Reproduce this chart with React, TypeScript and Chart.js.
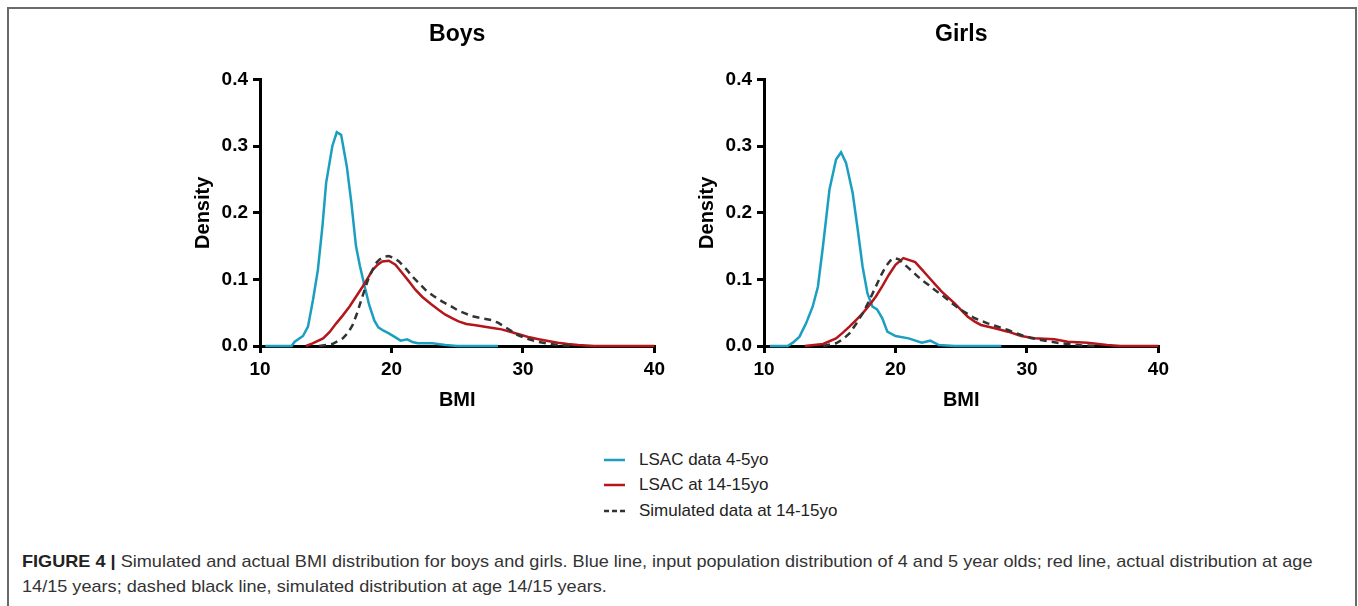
import React, { useEffect, useRef } from "react";
import { Chart, registerables } from "chart.js";

Chart.register(...registerables);

const FONT = "'Liberation Sans', Arial, Helvetica, sans-serif";

// ---- Boys ----
const boysInputX = [10.4, 12.4, 12.64, 13.27, 13.65, 14.03, 14.4, 14.75, 15.03, 15.5, 15.84, 16.17, 16.6, 16.95, 17.3, 17.6, 17.93, 18.3, 18.7, 19.0, 19.4, 19.8, 20.3, 20.7, 21.2, 21.6, 22.0, 23.1, 24.1, 25.0, 28.1];
const boysInputY = [0, 0, 0.0065, 0.015, 0.029, 0.069, 0.114, 0.18, 0.245, 0.3, 0.321, 0.317, 0.27, 0.215, 0.15, 0.12, 0.092, 0.062, 0.038, 0.028, 0.023, 0.019, 0.013, 0.008, 0.01, 0.006, 0.004, 0.004, 0.0015, 0, 0];
const boysActualX = [13.5, 14.0, 14.8, 15.3, 15.8, 16.3, 16.8, 17.3, 17.8, 18.2, 18.56, 18.95, 19.3, 19.8, 20.3, 20.8, 21.33, 21.8, 22.33, 23.0, 23.6, 24.1, 24.6, 25.1, 25.7, 26.4, 27.1, 27.7, 28.37, 29.1, 29.88, 30.5, 31.1, 31.9, 32.65, 33.4, 34.2, 35.4, 40];
const boysActualY = [0, 0.004, 0.0115, 0.021, 0.034, 0.046, 0.059, 0.074, 0.089, 0.102, 0.114, 0.122, 0.127, 0.128, 0.122, 0.11, 0.097, 0.085, 0.074, 0.063, 0.054, 0.047, 0.042, 0.037, 0.033, 0.031, 0.029, 0.027, 0.025, 0.021, 0.0165, 0.013, 0.0105, 0.0075, 0.005, 0.003, 0.0015, 0, 0];
const boysSimX = [14.5, 15.5, 16.3, 16.7, 17.05, 17.4, 17.7, 18.0, 18.3, 18.8, 19.1, 19.44, 19.8, 20.2, 20.57, 21.1, 21.6, 22.1, 22.6, 23.2, 23.84, 24.5, 25.1, 25.6, 26.1, 26.8, 27.6, 28.1, 28.6, 29.1, 29.6, 30.3, 31.1, 31.9, 32.65, 33.7];
const boysSimY = [0, 0.003, 0.0115, 0.02, 0.0316, 0.05, 0.069, 0.087, 0.104, 0.124, 0.13, 0.134, 0.135, 0.132, 0.127, 0.116, 0.104, 0.094, 0.084, 0.075, 0.067, 0.06, 0.053, 0.049, 0.045, 0.042, 0.039, 0.035, 0.029, 0.023, 0.0165, 0.011, 0.0065, 0.0035, 0.0015, 0];

// ---- Girls ----
const girlsInputX = [10.45, 11.8, 12.2, 12.7, 13.2, 13.7, 14.1, 14.48, 14.98, 15.48, 15.86, 16.24, 16.74, 17.1, 17.5, 17.87, 18.25, 18.6, 19.0, 19.38, 20.0, 21.0, 22.0, 22.65, 23.3, 24.5, 28.05];
const girlsInputY = [0, 0, 0.005, 0.014, 0.034, 0.059, 0.089, 0.149, 0.235, 0.28, 0.291, 0.275, 0.23, 0.179, 0.119, 0.079, 0.059, 0.055, 0.0416, 0.0215, 0.015, 0.0115, 0.005, 0.008, 0.0015, 0, 0];
const girlsActualX = [13.1, 14.5, 15.48, 16.0, 16.5, 17.0, 17.5, 18.0, 18.5, 19.0, 19.5, 20.0, 20.6, 21.5, 22.0, 22.5, 23.0, 23.5, 24.0, 24.5, 25.0, 25.5, 26.0, 26.5, 27.55, 28.56, 29.56, 30.57, 32.08, 33.1, 34.6, 36.1, 37.1, 40];
const girlsActualY = [0, 0.003, 0.0115, 0.02, 0.029, 0.039, 0.049, 0.061, 0.074, 0.09, 0.107, 0.122, 0.132, 0.126, 0.115, 0.104, 0.093, 0.082, 0.073, 0.064, 0.054, 0.044, 0.037, 0.0316, 0.0266, 0.0215, 0.015, 0.0115, 0.01, 0.0065, 0.005, 0.0015, 0, 0];
const girlsSimX = [14.5, 15.48, 16.0, 16.5, 17.0, 17.5, 18.0, 18.5, 18.9, 19.25, 19.6, 19.9, 20.26, 20.6, 21.0, 21.5, 22.0, 22.5, 23.0, 23.5, 24.0, 24.5, 25.0, 25.5, 26.0, 26.5, 27.0, 27.8, 28.56, 29.56, 30.3, 31.07, 32.6, 34.1, 35.3];
const girlsSimY = [0, 0.004, 0.01, 0.019, 0.033, 0.049, 0.068, 0.089, 0.106, 0.119, 0.128, 0.132, 0.13, 0.124, 0.117, 0.108, 0.099, 0.092, 0.084, 0.077, 0.069, 0.061, 0.054, 0.048, 0.042, 0.038, 0.034, 0.029, 0.024, 0.0165, 0.012, 0.009, 0.004, 0.001, 0];

const xTicks = [10, 20, 30, 40];
const yTicks = [0, 0.1, 0.2, 0.3, 0.4];

const seriesLabels = ["LSAC data 4-5yo", "LSAC at 14-15yo", "Simulated data at 14-15yo"];
const BLUE = "#1a9fc1";
const RED = "#b3161b";
const DARK = "#333333";

const pts = (xs: number[], ys: number[]) => xs.map((x, i) => ({ x, y: ys[i] }));

function makeConfig(title: string, input: any[], actual: any[], sim: any[], padRight: number): any {
  const common = {
    pointRadius: 0,
    borderWidth: 2.5,
    tension: 0,
    fill: false,
    clip: false,
  };
  return {
    type: "line",
    data: {
      datasets: [
        { ...common, label: seriesLabels[2], data: sim, borderColor: DARK, borderDash: [7, 5], order: 1 },
        { ...common, label: seriesLabels[1], data: actual, borderColor: RED, order: 2 },
        { ...common, label: seriesLabels[0], data: input, borderColor: BLUE, order: 3 },
      ],
    },
    options: {
      animation: false,
      responsive: false,
      devicePixelRatio: 1,
      layout: { padding: { left: 0, right: padRight, top: 0, bottom: 0 } },
      plugins: {
        legend: { display: false },
        tooltip: { enabled: false },
        title: {
          display: true,
          text: title,
          fullSize: false,
          color: "#000",
          font: { family: FONT, size: 23, weight: "bold" },
          padding: { top: 11, bottom: 31 },
        },
      },
      scales: {
        x: {
          type: "linear",
          min: 10,
          max: 40,
          afterFit: (s: any) => { s.height = 84; },
          afterBuildTicks: (s: any) => { s.ticks = xTicks.map((v) => ({ value: v })); },
          ticks: { color: "#000", padding: 5, font: { family: FONT, size: 19, weight: "bold" } },
          grid: { display: true, drawOnChartArea: false, drawTicks: true, tickLength: 7, lineWidth: 3, color: "#000" },
          border: { display: true, width: 3, color: "#000" },
          title: { display: true, text: "BMI", color: "#000", font: { family: FONT, size: 20, weight: "bold" }, padding: { top: 0, bottom: 18 } },
        },
        y: {
          type: "linear",
          min: 0,
          max: 0.4,
          afterFit: (s: any) => { s.width = 90; },
          afterBuildTicks: (s: any) => { s.ticks = yTicks.map((v) => ({ value: v })); },
          ticks: { color: "#000", padding: 5, font: { family: FONT, size: 19, weight: "bold" }, callback: (v: any) => Number(v).toFixed(1) },
          grid: { display: true, drawOnChartArea: false, drawTicks: true, tickLength: 7, lineWidth: 3, color: "#000" },
          border: { display: true, width: 3, color: "#000" },
          title: { display: true, text: "Density", color: "#000", font: { family: FONT, size: 20, weight: "bold" }, padding: { top: 21, bottom: 0 } },
        },
      },
    },
  };
}

function Panel({ left, title, input, actual, sim, padRight }: any) {
  const ref = useRef<HTMLCanvasElement>(null);
  useEffect(() => {
    const chart = new Chart(ref.current as HTMLCanvasElement, makeConfig(title, input, actual, sim, padRight));
    return () => chart.destroy();
  }, []);
  return (
    <canvas
      ref={ref}
      width={500}
      height={420}
      style={{ position: "absolute", left, top: 10, width: 500, height: 420 }}
    />
  );
}

function LegendRow({ top, color, dash, text }: any) {
  return (
    <div style={{ position: "absolute", left: 604, top, height: 22, display: "flex", alignItems: "center" }}>
      <svg width={22} height={6} style={{ display: "block" }}>
        <line x1={0} y1={3} x2={21} y2={3} stroke={color} strokeWidth={2.5} strokeDasharray={dash || undefined} />
      </svg>
      <span style={{ marginLeft: 13, fontFamily: FONT, fontSize: 17, color: "#222", whiteSpace: "nowrap" }}>{text}</span>
    </div>
  );
}

const captionLine1Rest = " Simulated and actual BMI distribution for boys and girls. Blue line, input population distribution of 4 and 5 year olds; red line, actual distribution at age";
const captionLine2 = "14/15 years; dashed black line, simulated distribution at age 14/15 years.";

export default function App() {
  const l1 = useRef<HTMLDivElement>(null);
  const l2 = useRef<HTMLDivElement>(null);
  useEffect(() => {
    if (l1.current && l2.current) {
      const w = l1.current.scrollWidth;
      const k = 1291 / w;
      l1.current.style.transform = `scaleX(${k})`;
      l2.current.style.transform = `scaleX(${k})`;
    }
  }, []);
  const capStyle: any = {
    position: "absolute",
    left: 22,
    fontFamily: FONT,
    fontSize: 17,
    lineHeight: "20px",
    color: "#333",
    whiteSpace: "nowrap",
    transformOrigin: "0 0",
  };
  return (
    <div style={{ position: "absolute", left: 0, top: 0, width: 1358, height: 606, overflow: "hidden", background: "#fff" }}>
      <div style={{ position: "absolute", left: 7, top: 7, width: 1350, height: 700, boxSizing: "border-box", border: "2px solid #6a6a6a" }} />
      <Panel left={170} title="Boys" input={pts(boysInputX, boysInputY)} actual={pts(boysActualX, boysActualY)} sim={pts(boysSimX, boysSimY)} padRight={13} />
      <Panel left={674} title="Girls" input={pts(girlsInputX, girlsInputY)} actual={pts(girlsActualX, girlsActualY)} sim={pts(girlsSimX, girlsSimY)} padRight={12} />
      <LegendRow top={449} color={BLUE} text={seriesLabels[0]} />
      <LegendRow top={474} color={RED} text={seriesLabels[1]} />
      <LegendRow top={500} color={DARK} dash="5 3" text={seriesLabels[2]} />
      <div ref={l1} style={{ ...capStyle, top: 552 }}>
        <b style={{ color: "#222" }}>FIGURE 4 |</b>
        {captionLine1Rest}
      </div>
      <div ref={l2} style={{ ...capStyle, top: 577 }}>{captionLine2}</div>
    </div>
  );
}
